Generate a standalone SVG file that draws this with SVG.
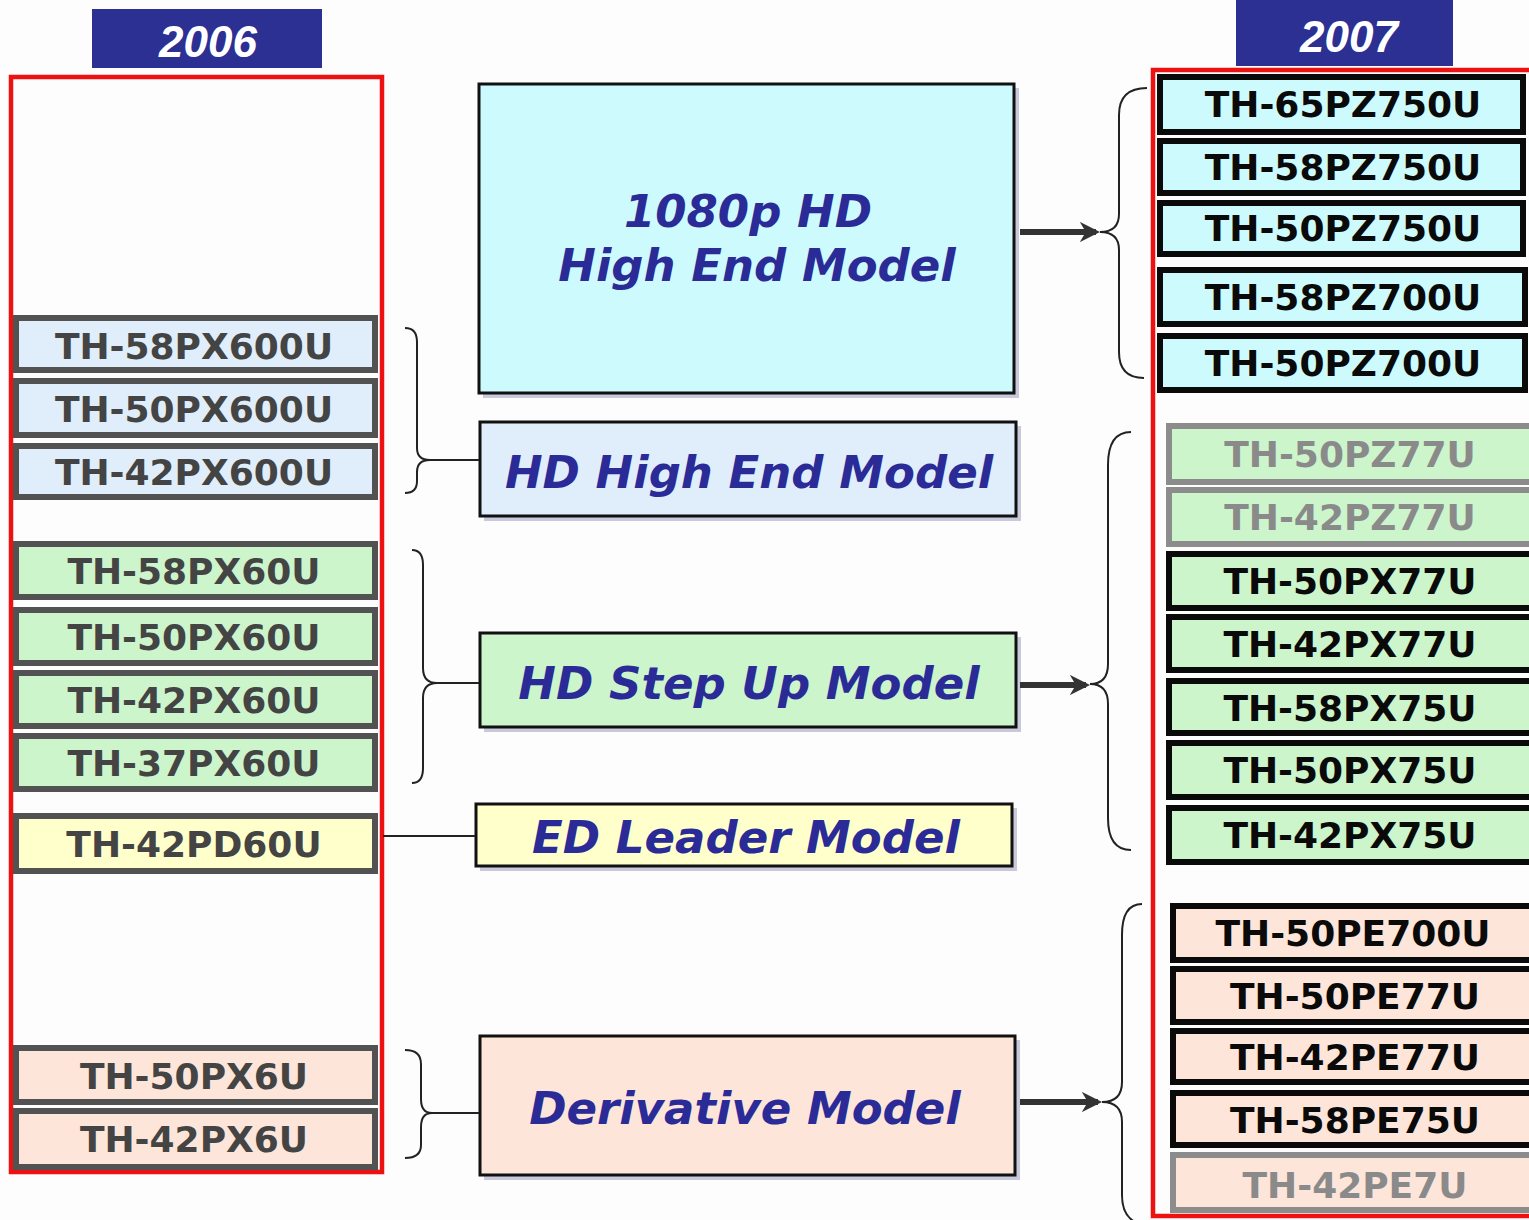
<svg xmlns="http://www.w3.org/2000/svg" width="1529" height="1220" viewBox="0 0 1529 1220">
<style>
.bg{fill:#fdfdfd}
.hdr{fill:#2c3093}
.hdrt{font-family:"Liberation Sans",Arial,sans-serif;font-weight:bold;font-style:italic;font-size:44px;fill:#ffffff;text-anchor:middle}
.frame{fill:none;stroke:#ee1111;stroke-width:4.5}
.lbox{stroke:#525252;stroke-width:6}
.rbox{stroke:#0a0a0a;stroke-width:6}
.gbox{stroke:#8c8c8c;stroke-width:6}
.mt{font-family:"DejaVu Sans",Verdana,sans-serif;font-weight:bold;font-size:36px;text-anchor:middle}
.lt{fill:#444444}
.rt{fill:#0a0a0a}
.gt{fill:#8a8a8a}
.cbox{stroke:#111111;stroke-width:3}
.shadow{fill:#c9c9dc}
.ct{font-family:"DejaVu Sans",Verdana,sans-serif;font-weight:bold;font-style:italic;font-size:45px;fill:#2b2b98;text-anchor:middle}
.blue{fill:#dfeefa}
.cyan{fill:#ccfafd}
.green{fill:#ccf5cc}
.yellow{fill:#ffffcc}
.peach{fill:#fde5d9}
.brace{fill:none;stroke:#222222;stroke-width:2}
.arrow{fill:none;stroke:#333333;stroke-width:6}
</style>
<defs>
<marker id="ah" markerWidth="3.4" markerHeight="3.4" viewBox="0 0 10 10" refX="8" refY="5" orient="auto" markerUnits="strokeWidth">
<path d="M0,0 L10,5 L0,10 L3,5 Z" fill="#333333"/>
</marker>
</defs>
<rect class="bg" x="0" y="0" width="1529" height="1220"/>

<g id="header-2006"><rect class="hdr" x="92" y="9" width="230" height="59"/><text class="hdrt" x="208" y="57">2006</text></g>
<g id="header-2007"><rect class="hdr" x="1236" y="0" width="217" height="66"/><text class="hdrt" x="1349" y="52">2007</text></g>

<g id="frame-2006"><rect class="frame" x="11" y="77" width="371" height="1095"/></g>
<g id="frame-2007"><rect class="frame" x="1153" y="70" width="380" height="1146"/></g>

<g id="left-models">
<g id="TH-58PX600U"><rect class="lbox blue" x="16" y="318" width="359" height="52"/><text class="mt lt" x="194" y="359">TH-58PX600U</text></g>
<g id="TH-50PX600U"><rect class="lbox blue" x="16" y="381" width="359" height="54"/><text class="mt lt" x="194" y="422">TH-50PX600U</text></g>
<g id="TH-42PX600U"><rect class="lbox blue" x="16" y="446" width="359" height="51"/><text class="mt lt" x="194" y="485">TH-42PX600U</text></g>
<g id="TH-58PX60U"><rect class="lbox green" x="16" y="544" width="359" height="53"/><text class="mt lt" x="194" y="584">TH-58PX60U</text></g>
<g id="TH-50PX60U"><rect class="lbox green" x="16" y="610" width="359" height="53"/><text class="mt lt" x="194" y="650">TH-50PX60U</text></g>
<g id="TH-42PX60U"><rect class="lbox green" x="16" y="673" width="359" height="53"/><text class="mt lt" x="194" y="713">TH-42PX60U</text></g>
<g id="TH-37PX60U"><rect class="lbox green" x="16" y="736" width="359" height="53"/><text class="mt lt" x="194" y="776">TH-37PX60U</text></g>
<g id="TH-42PD60U"><rect class="lbox yellow" x="16" y="816" width="359" height="55"/><text class="mt lt" x="194" y="857">TH-42PD60U</text></g>
<g id="TH-50PX6U"><rect class="lbox peach" x="16" y="1048" width="359" height="54"/><text class="mt lt" x="194" y="1089">TH-50PX6U</text></g>
<g id="TH-42PX6U"><rect class="lbox peach" x="16" y="1111" width="359" height="56"/><text class="mt lt" x="194" y="1152">TH-42PX6U</text></g>
</g>

<g id="center-models">
<g id="m-1080p"><rect class="shadow" x="483" y="88" width="536" height="310"/><rect class="cbox cyan" x="479" y="84" width="535" height="309"/><text class="ct" x="748" y="227">1080p HD</text><text class="ct" x="757" y="281">High End Model</text></g>
<g id="m-hd-high"><rect class="shadow" x="484" y="426" width="537" height="95"/><rect class="cbox blue" x="480" y="422" width="536" height="94"/><text class="ct" x="749" y="488">HD High End Model</text></g>
<g id="m-hd-step"><rect class="shadow" x="484" y="637" width="537" height="95"/><rect class="cbox green" x="480" y="633" width="536" height="94"/><text class="ct" x="749" y="699">HD Step Up Model</text></g>
<g id="m-ed"><rect class="shadow" x="480" y="808" width="537" height="63"/><rect class="cbox yellow" x="476" y="804" width="536" height="62"/><text class="ct" x="746" y="853">ED Leader Model</text></g>
<g id="m-deriv"><rect class="shadow" x="484" y="1040" width="536" height="140"/><rect class="cbox peach" x="480" y="1036" width="535" height="139"/><text class="ct" x="745" y="1124">Derivative Model</text></g>
</g>

<g id="right-models">
<g id="TH-65PZ750U"><rect class="rbox cyan" x="1160" y="77" width="363" height="55"/><text class="mt rt" x="1343" y="117">TH-65PZ750U</text></g>
<g id="TH-58PZ750U"><rect class="rbox cyan" x="1160" y="141" width="363" height="52"/><text class="mt rt" x="1343" y="180">TH-58PZ750U</text></g>
<g id="TH-50PZ750U"><rect class="rbox cyan" x="1160" y="203" width="363" height="51"/><text class="mt rt" x="1343" y="241">TH-50PZ750U</text></g>
<g id="TH-58PZ700U"><rect class="rbox cyan" x="1160" y="270" width="365" height="54"/><text class="mt rt" x="1343" y="310">TH-58PZ700U</text></g>
<g id="TH-50PZ700U"><rect class="rbox cyan" x="1160" y="336" width="365" height="54"/><text class="mt rt" x="1343" y="376">TH-50PZ700U</text></g>
<g id="TH-50PZ77U"><rect class="gbox green" x="1169" y="426" width="370" height="56"/><text class="mt gt" x="1350" y="467">TH-50PZ77U</text></g>
<g id="TH-42PZ77U"><rect class="gbox green" x="1169" y="490" width="370" height="54"/><text class="mt gt" x="1350" y="530">TH-42PZ77U</text></g>
<g id="TH-50PX77U"><rect class="rbox green" x="1169" y="554" width="370" height="54"/><text class="mt rt" x="1350" y="594">TH-50PX77U</text></g>
<g id="TH-42PX77U"><rect class="rbox green" x="1169" y="617" width="370" height="53"/><text class="mt rt" x="1350" y="657">TH-42PX77U</text></g>
<g id="TH-58PX75U"><rect class="rbox green" x="1169" y="681" width="370" height="52"/><text class="mt rt" x="1350" y="721">TH-58PX75U</text></g>
<g id="TH-50PX75U"><rect class="rbox green" x="1169" y="743" width="370" height="54"/><text class="mt rt" x="1350" y="783">TH-50PX75U</text></g>
<g id="TH-42PX75U"><rect class="rbox green" x="1169" y="808" width="370" height="54"/><text class="mt rt" x="1350" y="848">TH-42PX75U</text></g>
<g id="TH-50PE700U"><rect class="rbox peach" x="1173" y="906" width="370" height="54"/><text class="mt rt" x="1353" y="946">TH-50PE700U</text></g>
<g id="TH-50PE77U"><rect class="rbox peach" x="1173" y="969" width="370" height="53"/><text class="mt rt" x="1355" y="1009">TH-50PE77U</text></g>
<g id="TH-42PE77U"><rect class="rbox peach" x="1173" y="1031" width="370" height="51"/><text class="mt rt" x="1355" y="1070">TH-42PE77U</text></g>
<g id="TH-58PE75U"><rect class="rbox peach" x="1173" y="1093" width="370" height="52"/><text class="mt rt" x="1355" y="1133">TH-58PE75U</text></g>
<g id="TH-42PE7U"><rect class="gbox peach" x="1173" y="1155" width="370" height="55"/><text class="mt gt" x="1355" y="1198">TH-42PE7U</text></g>
</g>

<g id="connectors">
<path class="brace" d="M405,328 Q417,328 417,342 L417,448 Q417,460 430,460 L479,460 M430,460 Q417,460 417,472 L417,481 Q417,493 405,493"/>
<path class="brace" d="M412,550 Q423,550 423,565 L423,668 Q423,683 437,683 L479,683 M437,683 Q423,683 423,698 L423,768 Q423,783 412,783"/>
<path class="brace" d="M383,836 L475,836"/>
<path class="brace" d="M405,1050 Q421,1050 421,1064 L421,1099 Q421,1113 432,1113 L479,1113 M432,1113 Q421,1113 421,1127 L421,1145 Q421,1158 405,1158"/>
<path class="brace" d="M1147,88 Q1119,88 1119,115 L1119,214 Q1119,232 1100,232 Q1119,232 1119,250 L1119,352 Q1119,378 1144,378"/>
<path class="brace" d="M1131,432 Q1108,432 1108,465 L1108,664 Q1108,684 1090,684 Q1108,684 1108,704 L1108,818 Q1108,850 1131,850"/>
<path class="brace" d="M1142,904 Q1122,904 1122,935 L1122,1082 Q1122,1102 1102,1102 Q1122,1102 1122,1122 L1122,1195 Q1122,1215 1135,1222"/>
<path class="arrow" d="M1020,232 L1096,232" marker-end="url(#ah)"/>
<path class="arrow" d="M1020,685 L1086,685" marker-end="url(#ah)"/>
<path class="arrow" d="M1020,1102 L1098,1102" marker-end="url(#ah)"/>
</g>
</svg>
